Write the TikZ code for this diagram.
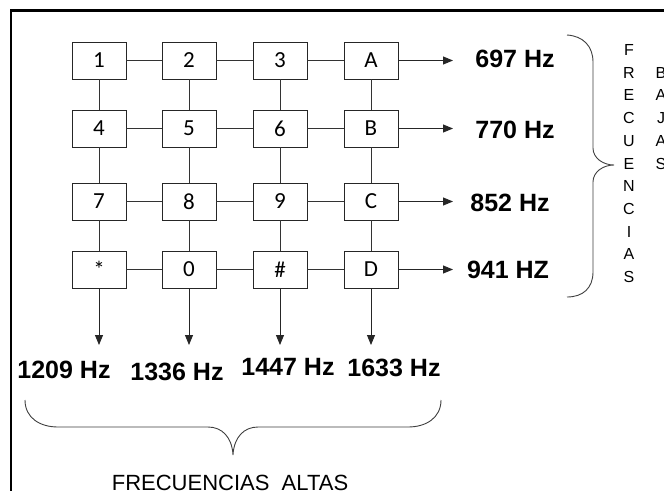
\documentclass[tikz,border=0pt]{standalone}
\usepackage{fontspec}
\setmainfont{Liberation Sans}
\newfontfamily\carlito{Carlito}
\usetikzlibrary{arrows.meta}
\tikzset{
  keybox/.style={draw=black!85, line width=0.9pt, minimum width=54pt, minimum height=37pt, inner sep=0pt, font=\carlito\fontsize{23}{27}\selectfont},
  link/.style={draw=black!80, line width=0.9pt},
  arr/.style={draw=black!85, line width=0.9pt, -{Triangle[length=10pt,width=8pt]}},
  hz/.style={inner sep=0pt, font=\bfseries\fontsize{25}{30}\selectfont},
  vletter/.style={inner sep=0pt, font=\fontsize{16}{19}\selectfont},
  bracestyle/.style={draw=black!75, line width=0.9pt},
  altas/.style={inner sep=0pt, font=\fontsize{22}{26}\selectfont}
}
\begin{document}
\begin{tikzpicture}[x=1pt,y=-1pt]
\clip (0,0) rectangle (664,490);
\fill[white] (0,0) rectangle (664,490);
% frame
\draw[line width=2.2pt] (10.7,520) -- (10.7,10.5) -- (700,10.5);
% keys
\node[keybox] (k1) at (99,60.5) {1};
\node[keybox] (k2) at (189,60.5) {2};
\node[keybox] (k3) at (280,60.5) {3};
\node[keybox] (kA) at (371,60.5) {A};
\node[keybox] (k4) at (99,128.5) {4};
\node[keybox] (k5) at (189,128.5) {5};
\node[keybox] (k6) at (280,128.5) {6};
\node[keybox] (kB) at (371,128.5) {B};
\node[keybox] (k7) at (99,201.5) {7};
\node[keybox] (k8) at (189,201.5) {8};
\node[keybox] (k9) at (280,201.5) {9};
\node[keybox] (kC) at (371,201.5) {C};
\node[keybox] (ks) at (99,269.5) {*};
\node[keybox] (k0) at (189,269.5) {0};
\node[keybox] (kh) at (280,269.5) {\#};
\node[keybox] (kD) at (371,269.5) {D};
% horizontal links
\foreach \a/\b in {k1/k2,k2/k3,k3/kA,k4/k5,k5/k6,k6/kB,k7/k8,k8/k9,k9/kC,ks/k0,k0/kh,kh/kD}
  \draw[link] (\a) -- (\b);
% vertical links
\foreach \a/\b in {k1/k4,k4/k7,k7/ks,k2/k5,k5/k8,k8/k0,k3/k6,k6/k9,k9/kh,kA/kB,kB/kC,kC/kD}
  \draw[link] (\a) -- (\b);
% right arrows
\coordinate (r1) at (453,60.5);
\coordinate (r2) at (453,128.5);
\coordinate (r3) at (453,201.5);
\coordinate (r4) at (453,269.5);
\draw[arr] (kA.east) -- (r1);
\draw[arr] (kB.east) -- (r2);
\draw[arr] (kC.east) -- (r3);
\draw[arr] (kD.east) -- (r4);
\node[hz] (f697) at (515,59) {697 Hz};
\node[hz] (f770) at (515,130) {770 Hz};
\node[hz] (f852) at (510,203) {852 Hz};
\node[hz] (f941) at (508,270) {941 HZ};
% down arrows
\coordinate (d1) at (99,345);
\coordinate (d2) at (189,345);
\coordinate (d3) at (280,345);
\coordinate (d4) at (371,345);
\draw[arr] (ks.south) -- (d1);
\draw[arr] (k0.south) -- (d2);
\draw[arr] (kh.south) -- (d3);
\draw[arr] (kD.south) -- (d4);
\node[hz] (f1209) at (64,370) {1209 Hz};
\node[hz] (f1336) at (177,372) {1336 Hz};
\node[hz] (f1447) at (288,367) {1447 Hz};
\node[hz] (f1633) at (394,368) {1633 Hz};
% right brace
\draw[bracestyle] (567,35) .. controls (583,36) and (593,46) .. (593,62) -- (593,148)
  .. controls (593,158) and (603,165) .. (614,165)
  .. controls (603,165) and (593,172) .. (593,182) -- (593,272)
  .. controls (593,288) and (583,297) .. (567,297);
% bottom brace
\draw[bracestyle] (25,400) .. controls (25,418) and (40,427) .. (58,427) -- (208,427)
  .. controls (222,427) and (232,437) .. (233,455)
  .. controls (234,437) and (244,427) .. (258,427) -- (408,427)
  .. controls (426,427) and (441,418) .. (441,400);
% vertical texts
\foreach \l [count=\i] in {F,R,E,C,U,E,N,C,I,A,S}
  \node[vletter] (fr\i) at (629,{50+22.7*(\i-1)}) {\l};
\foreach \l [count=\i] in {B,A,J,A,S}
  \node[vletter] (ba\i) at (661,{72.7+22.7*(\i-1)}) {\l};
\node[altas] (altas) at (230,483) {FRECUENCIAS\ \ ALTAS};
\end{tikzpicture}
\end{document}
